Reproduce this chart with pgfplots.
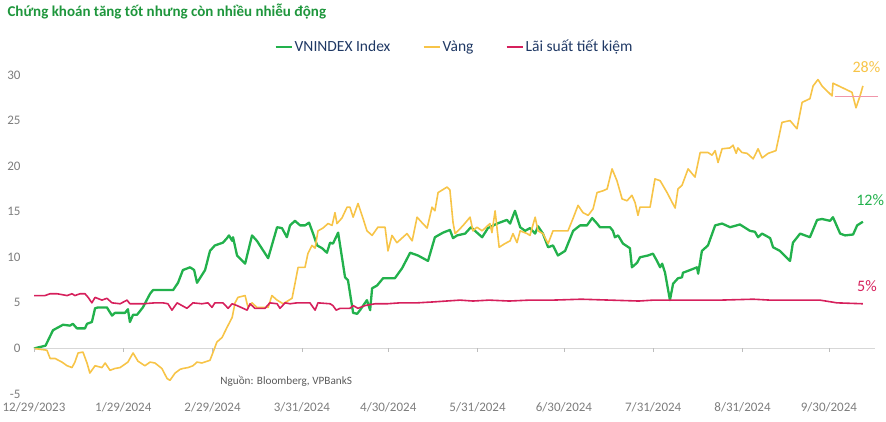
\documentclass[border=0pt]{standalone}
\usepackage{fontspec}
\setmainfont{Carlito}
\usepackage{pgfplots}
\pgfplotsset{compat=1.18}
\definecolor{cgreen}{RGB}{34,177,76}
\definecolor{cgold}{RGB}{247,196,72}
\definecolor{cred}{RGB}{214,32,92}
\definecolor{titlegreen}{RGB}{30,150,60}
\definecolor{legblue}{RGB}{31,56,100}
\definecolor{tickgray}{RGB}{125,125,125}
\definecolor{srcgray}{RGB}{90,90,90}
\definecolor{zerogray}{RGB}{215,215,215}
\definecolor{refpink}{RGB}{240,150,170}
\begin{document}
\begin{tikzpicture}
\useasboundingbox (-34pt,-28pt) rectangle (852pt,394pt);
\node[anchor=west, font=\bfseries\fontsize{15}{17}\selectfont, text=titlegreen] at (-30pt,382pt) {Chứng khoán tăng tốt nhưng còn nhiều nhiễu động};
\begin{axis}[
  at={(0,0)}, anchor=south west,
  width=841pt, height=319pt, scale only axis,
  xmin=0, xmax=292, ymin=-5, ymax=30,
  axis line style={draw=none},
  major tick length=0pt,
  xtick={0,31,62,93,123,154,184,215,246,276},
  xticklabels={12/29/2023,1/29/2024,2/29/2024,3/31/2024,4/30/2024,5/31/2024,6/30/2024,7/31/2024,8/31/2024,9/30/2024},
  ytick={-5,0,5,10,15,20,25,30},
  /pgf/number format/assume math mode=true,
  tick label style={font=\fontsize{13}{15}\selectfont, text=tickgray},
  xticklabel style={yshift=-5pt},
  yticklabel style={xshift=-10pt},
  clip=false,
  legend columns=3,
  legend style={at={(0.5,1.088)}, anchor=center, draw=none, fill=none,
    font=\fontsize{15.5}{17}\selectfont, text=legblue,
    /tikz/every even column/.append style={column sep=30pt}},
  legend image code/.code={\draw[#1, line width=2.2pt] (0pt,0pt) -- (16pt,0pt);},
]
% zero line and month ticks
\addplot[zerogray, line width=1.6pt, forget plot] coordinates {(0,0) (292,0)};
\addplot[zerogray!70!gray, only marks, mark=|, mark size=2pt, mark options={yshift=-2pt, line width=0.6pt}, forget plot]
  coordinates {(0,0) (31,0) (62,0) (93,0) (123,0) (154,0) (184,0) (215,0) (246,0) (276,0)};
% VNINDEX
\addplot[cgreen, line width=2.3pt, line join=round] coordinates {
(0,0) (4,0.3) (6.6,2.0) (10.1,2.6) (12.5,2.5) (13.5,2.7) (14.9,2.2) (17.7,2.2) (18.4,2.7) (20.1,2.9)
(21.2,4.4) (22.2,4.5) (25.3,4.5) (27.1,3.6) (28.1,3.9) (31.6,3.9) (32.6,4.3) (33.3,2.9) (34.4,3.7) (35.8,3.7)
(37.8,4.5) (40.3,6.0) (41.3,6.4) (44.8,6.4) (48.3,6.4) (50,7.2) (51.7,8.6) (54.2,8.9) (55.6,8.6) (56.6,7.2)
(59.4,8.6) (61.1,10.7) (62.8,11.3) (65.6,11.6) (67.0,12.1) (67.7,12.4) (68.8,11.8) (69.1,12.2) (70.5,10.2) (73.3,9.3)
(75.7,12.4) (77.4,11.8) (81.3,9.9) (84.4,13.3) (86.1,13.2) (87.8,12.2) (88.9,13.5) (90.6,14.0) (92.4,13.5) (94.1,13.5)
(95.5,13.8) (96.9,12.6) (98.3,11.3) (100.0,11.0) (101.7,10.5) (102.8,11.6) (103.8,11.5) (105.6,12.7) (108.0,7.8) (109.0,7.5)
(110.8,3.9) (112.2,3.8) (113.2,4.2) (115.6,5.3) (116.7,4.2) (117.4,6.6) (119.1,6.9) (121.2,7.7) (125.3,7.7) (127.8,8.8)
(130.6,10.5) (133.3,10.2) (136.8,9.6) (139.2,12.2) (142.0,12.7) (144.4,13.0) (145.5,12.1) (146.9,12.4) (149.7,12.6) (151.7,13.3)
(155.6,12.2) (157.6,13.2) (160.8,13.7) (164.2,14.1) (165.3,13.7) (167.0,15.1) (168.8,13.3) (170.5,12.9) (172.2,13.2) (174.0,12.6)
(175.0,13.4) (176.7,12.6) (178.5,11.1) (180.2,11.3) (181.9,10.2) (184.4,10.7) (187.2,12.9) (189.6,13.5) (192.0,13.5) (193.8,14.3)
(195.5,13.7) (196.5,13.3) (200.0,13.3) (201.0,12.9) (201.7,12.2) (202.8,12.4) (204.5,11.5) (206.9,11.0) (207.6,8.9) (209.4,9.4)
(210.4,10.0) (213.2,10.2) (214.9,10.4) (216.3,9.6) (217.4,8.9) (218.1,9.3) (219.1,8.3) (220.8,5.3) (221.9,7.1) (223.6,7.7)
(225.0,7.8) (225.3,8.3) (227.8,8.6) (230.2,8.9) (230.6,8.2) (231.9,10.7) (234.0,11.3) (236.5,13.5) (238.9,13.7) (241.7,13.3)
(245.1,13.6) (248.6,12.9) (250.3,12.8) (251.4,12.2) (252.8,12.6) (255.6,12.1) (256.6,11.1) (259.0,10.7) (262.5,9.6) (263.5,11.6)
(266.0,12.6) (269.4,12.2) (271.9,14.1) (273.6,14.2) (276.4,14.0) (277.4,14.4) (279.9,12.6) (281.6,12.4) (284.4,12.5) (285.8,13.5)
(287.8,13.9)};
\addlegendentry{VNINDEX Index}
% Gold
\addplot[cgold, line width=1.6pt, line join=round] coordinates {
(0,0) (4.5,-0.2) (5.6,-1.1) (7.3,-1.1) (9.7,-1.5) (11.5,-1.9) (13.2,-2.1) (14.2,-1.5) (15.3,-0.5) (17.0,-0.4)
(18.4,-1.6) (19.4,-2.7) (21.2,-1.9) (23.6,-2.1) (24.7,-1.6) (26.4,-2.4) (28.1,-2.2) (29.9,-2.1) (32.6,-1.5) (34.4,-0.5)
(36.1,-1.4) (38.5,-1.9) (40.3,-1.5) (42.0,-1.6) (44.4,-2.2) (46.2,-3.3) (47.2,-3.5) (49.0,-2.7) (50.7,-2.3) (51.7,-2.2)
(53.5,-2.1) (55.2,-1.9) (56.6,-1.5) (58.3,-1.6) (61.1,-1.3) (62.2,-0.4) (63.5,0.7) (65.3,1.2) (67.0,2.3) (68.8,3.4)
(69.8,5.0) (70.8,5.6) (73.3,5.8) (74.3,4.5) (75.7,5.0) (77.4,4.5) (81.3,4.5) (82.6,5.8) (84.4,5.3) (86.5,4.9)
(89.6,5.5) (90.6,7.1) (91.7,8.9) (94.1,8.9) (95.1,10.4) (96.5,11.3) (97.6,11.0) (98.6,12.9) (100.3,13.2) (102.1,13.7)
(103.5,13.5) (104.5,14.9) (105.2,13.7) (106.9,14.3) (108.7,15.5) (109.7,15.5) (110.8,14.4) (112.5,15.9) (114.2,14.3) (115.6,12.9)
(117.4,12.4) (119.4,13.3) (121.9,13.3) (122.9,10.7) (124.3,12.4) (126.0,11.6) (128.1,12.2) (129.5,12.6) (131.3,11.8) (133.0,14.4)
(134.7,13.8) (136.5,13.2) (138.2,15.5) (139.2,15.1) (140.3,17.1) (143.4,17.7) (144.4,17.4) (145.5,13.8) (146.2,12.6) (147.2,12.9)
(149.0,13.5) (151.4,14.4) (152.4,12.9) (153.8,13.3) (155.6,12.9) (158.3,13.7) (159.0,12.7) (160.1,15.1) (161.5,11.1) (163.5,11.5)
(165.3,11.8) (166.3,12.6) (167.7,11.6) (168.8,12.9) (171.2,12.6) (172.2,12.4) (174.0,14.4) (175.0,12.9) (176.7,12.6) (178.5,11.5)
(180.2,12.9) (185.4,12.9) (187.2,14.3) (188.9,15.7) (190.6,14.9) (192.4,14.6) (194.1,15.3) (195.5,17.1) (197.6,17.3) (199.0,17.5)
(200.7,19.7) (202.4,18.4) (204.2,16.4) (205.9,16.2) (207.6,16.8) (208.7,16.0) (209.7,14.6) (210.4,15.5) (213.9,15.5) (215.6,18.6)
(217.4,18.4) (219.8,17.1) (222.6,15.4) (223.6,17.5) (225.0,17.9) (227.1,19.7) (229.5,18.8) (231.3,21.5) (234.0,21.5) (235.4,21.2)
(236.5,21.7) (237.5,20.4) (238.9,21.9) (241.7,22.0) (242.7,22.3) (243.8,21.4) (244.4,22.0) (245.8,21.5) (247.6,21.4) (249.7,20.8)
(251.4,21.9) (252.8,20.9) (254.9,21.4) (257.6,21.7) (259.7,24.8) (262.5,25.0) (264.9,24.1) (266.7,27.0) (269.4,27.4) (270.5,28.8)
(272.2,29.5) (273.6,28.8) (277.1,27.7) (277.4,29.1) (284.0,28.1) (285.4,26.4) (286.8,27.7) (287.8,28.8)};
\addlegendentry{Vàng}
% Savings rate
\addplot[cred, line width=1.6pt, line join=round] coordinates {
(0,5.8) (3.8,5.8) (5.6,6.0) (8,6.0) (11.5,5.8) (13.2,6.0) (14.2,5.8) (16,6.0) (17.7,6.0) (18.8,5.6)
(20.1,5.0) (21.2,5.6) (23.6,5.3) (25.3,5.5) (27.1,5.0) (29.9,4.9) (32.3,5.3) (33.3,4.9) (37.8,4.9) (42,5.0)
(44.8,5.0) (46.5,4.9) (47.9,4.2) (49.7,5.0) (53.1,4.4) (55.2,5.0) (58.3,4.9) (60.4,5.0) (61.8,4.5) (62.8,5.0)
(65.6,5.0) (67.4,4.4) (68.8,4.9) (70.5,4.7) (74,4.2) (75,4.9) (76.7,4.4) (80.2,4.4) (81.9,5.0) (84.4,4.9)
(85.4,4.4) (87.2,5.0) (88.9,4.9) (91.3,5.0) (95.8,5.0) (97.6,4.2) (98.6,5.0) (102.8,4.9) (103.8,4.7) (104.9,4.2)
(106.3,4.4) (109.7,4.4) (110.8,4.7) (112.5,4.4) (114.9,4.7) (118.4,4.9) (122.6,4.9) (127.1,5.0) (133,5.0) (138.5,5.1)
(147.9,5.3) (152.4,5.2) (158,5.3) (165,5.2) (172,5.3) (180,5.3) (190,5.4) (200,5.3) (210,5.2) (215,5.3)
(220.8,5.3) (230,5.3) (238.2,5.3) (249.7,5.4) (255.6,5.3) (261.5,5.3) (272.9,5.3) (278.8,5.0) (287.8,4.9)};
\addlegendentry{Lãi suất tiết kiệm}
% reference line near the gold end value
\addplot[refpink, line width=0.8pt, forget plot] coordinates {(278,27.6) (293,27.6)};
% end labels
\node[font=\fontsize{16}{18}\selectfont, text=cgold] at (axis cs:289,30.9) {28\%};
\node[font=\fontsize{16}{18}\selectfont, text=cgreen] at (axis cs:290.3,16.3) {12\%};
\node[font=\fontsize{16}{18}\selectfont, text=cred] at (axis cs:289.2,6.8) {5\%};
\node[anchor=west, font=\fontsize{11.2}{13}\selectfont, text=srcgray] at (axis cs:63.5,-3.6) {Nguồn: Bloomberg, VPBankS};
\end{axis}
\end{tikzpicture}
\end{document}
